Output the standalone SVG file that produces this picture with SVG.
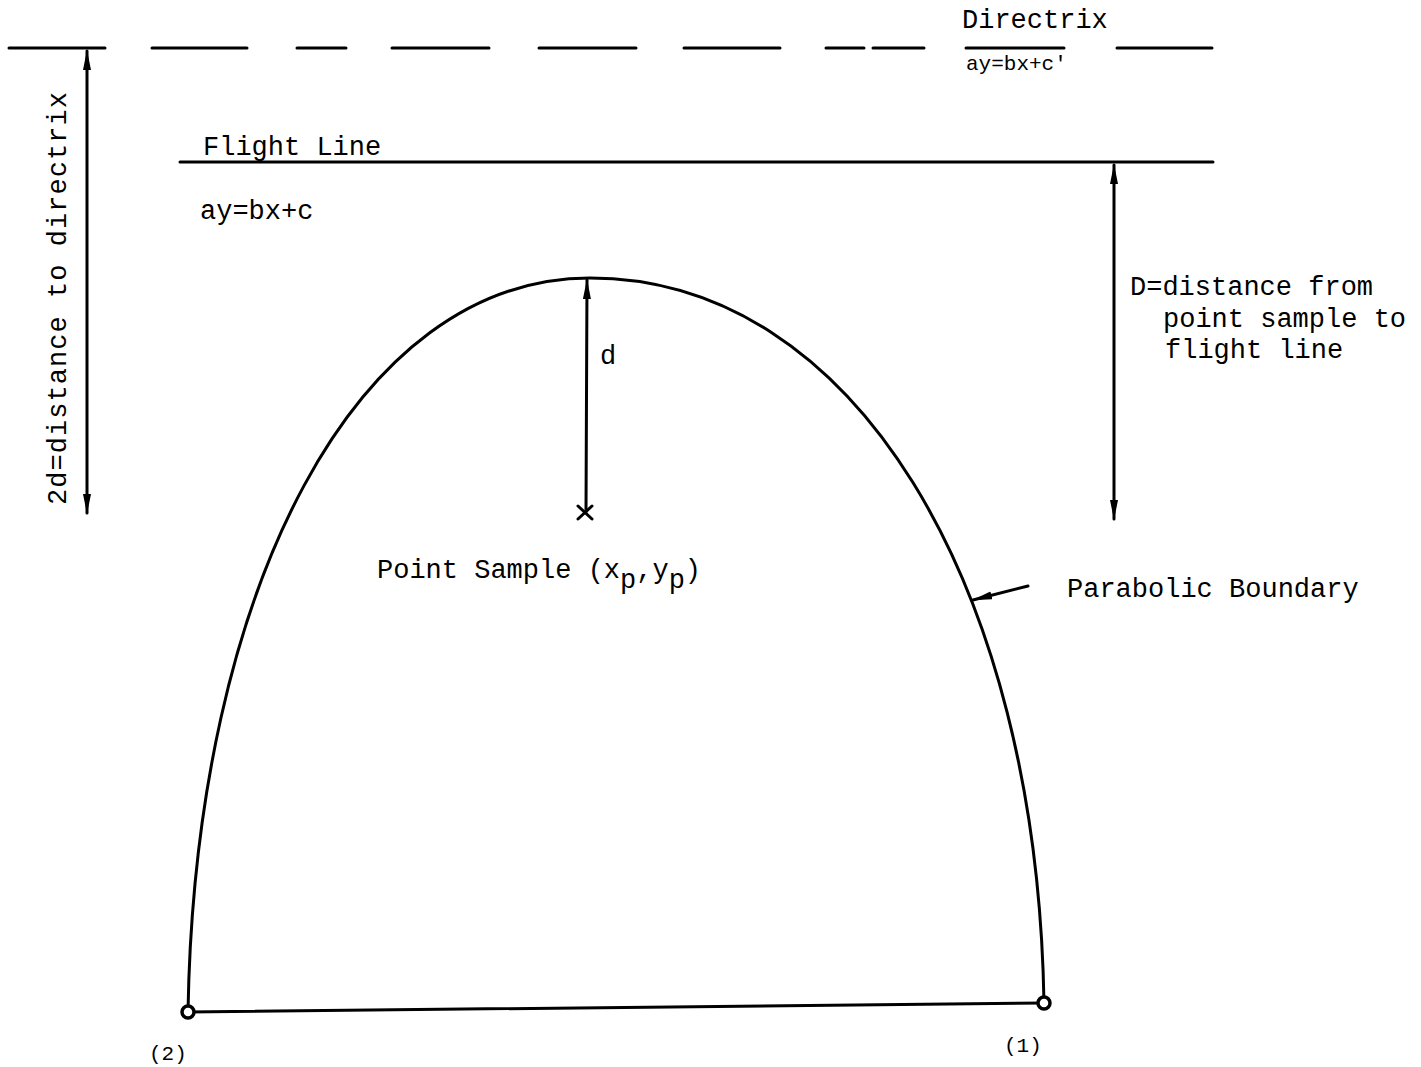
<svg xmlns="http://www.w3.org/2000/svg" width="1421" height="1067" viewBox="0 0 1421 1067">
<style>
.ln{stroke:#000;stroke-width:3;fill:none;stroke-linecap:round}
.t{font-family:"Liberation Mono","DejaVu Sans Mono",monospace;font-size:27px;fill:#000}
.ts{font-family:"Liberation Mono","DejaVu Sans Mono",monospace;font-size:21px;fill:#000}
</style>
<defs>
<marker id="ah" viewBox="0 0 20 10" refX="19" refY="5" markerWidth="20" markerHeight="10" markerUnits="userSpaceOnUse" orient="auto-start-reverse">
<path d="M0,1 L20,5 L0,9 Z" fill="#000"/>
</marker>
</defs>
<rect width="1421" height="1067" fill="#fff"/>

<g id="directrix">
<path class="ln" stroke-width="4" d="M9,48H105M152,48H247M297,48H346M392,48H489M539,48H636M684,48H780M826,48H864M873,48H924M966,48H1064M1117,48H1212"/>
<text class="t" x="962" y="28">Directrix</text>
<text class="ts" x="966" y="70">ay=bx+c'</text>
</g>

<g id="flight-line">
<path class="ln" d="M180,162H1213"/>
<text class="t" x="203" y="155">Flight Line</text>
<text class="t" x="200" y="219">ay=bx+c</text>
</g>

<g id="boundary">
<path class="ln" d="M188,1012 C195,586.3 356.8,278 590,278 C853.3,278 1037,582.5 1044,1003"/>
<path class="ln" d="M188,1012 L1044,1003"/>
<circle cx="188" cy="1012" r="6" fill="#fff" stroke="#000" stroke-width="3.5"/>
<circle cx="1044" cy="1003" r="6" fill="#fff" stroke="#000" stroke-width="3.5"/>
<text class="ts" x="149" y="1060" font-size="23">(2)</text>
<text class="ts" x="1004" y="1052" font-size="23">(1)</text>
</g>

<g id="point-sample">
<path class="ln" d="M578,506 L592,519 M592,506 L578,519"/>
<text class="t" x="377" y="578">Point Sample (x<tspan dy="10">p</tspan><tspan dy="-10">,y</tspan><tspan dy="10">p</tspan><tspan dy="-10">)</tspan></text>
<text class="t" x="600" y="364">d</text>
</g>

<g id="labels">
<text class="t" x="1130" y="295">D=distance from</text>
<text class="t" x="1163" y="327">point sample to</text>
<text class="t" x="1165" y="358">flight line</text>
<text class="t" x="1067" y="597">Parabolic Boundary</text>
<text class="t" transform="translate(66,505) rotate(-90)" textLength="413" lengthAdjust="spacing">2d=distance to directrix</text>
</g>

<g id="connectors">
<path class="ln" d="M87,51 L87,513" marker-start="url(#ah)" marker-end="url(#ah)"/>
<path class="ln" d="M1114,165 L1114,519" marker-start="url(#ah)" marker-end="url(#ah)"/>
<path class="ln" d="M586,512 L587,280" marker-end="url(#ah)"/>
<path class="ln" d="M1028,586 L973,600" marker-end="url(#ah)"/>
</g>
</svg>
